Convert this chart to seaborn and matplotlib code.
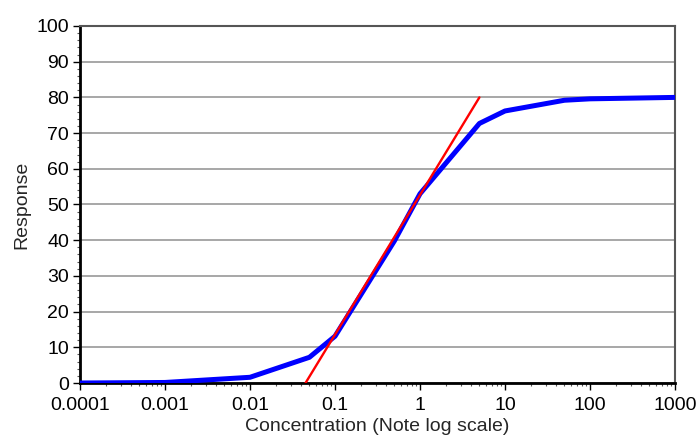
import matplotlib
matplotlib.use("Agg")
import matplotlib.pyplot as plt
import matplotlib.ticker as mticker
import seaborn as sns
import pandas as pd

conc = [0.0001, 0.001, 0.01, 0.05, 0.1, 0.5, 1, 5, 10, 50, 100, 1000]
response = [0.0, 0.15, 1.6, 7.2, 13.1, 39.8, 53.0, 72.7, 76.2, 79.2, 79.6, 80.0]

tangent_x = [0.045, 5.0]
tangent_y = [0.0, 80.0]

x_ticks = [0.0001, 0.001, 0.01, 0.1, 1, 10, 100, 1000]
x_tick_labels = ["0.0001", "0.001", "0.01", "0.1", "1", "10", "100", "1000"]
y_ticks = [0, 10, 20, 30, 40, 50, 60, 70, 80, 90, 100]

sns.set_style("white")
plt.rcParams['font.family'] = ['Liberation Sans', 'DejaVu Sans']

fig = plt.figure(figsize=(6.98, 4.37), dpi=100)
ax = fig.add_axes([80/698, 1-383/437, (675-80)/698, (383-26)/437])

df = pd.DataFrame({"conc": conc, "response": response})
df_t = pd.DataFrame({"x": tangent_x, "y": tangent_y})

sns.lineplot(data=df, x="conc", y="response", ax=ax, color="#0000ff", linewidth=3.6, zorder=3)
sns.lineplot(data=df_t, x="x", y="y", ax=ax, color="#ff0000", linewidth=1.7, zorder=4)

ax.set_xscale("log")
ax.set_xlim(0.0001, 1000)
ax.set_ylim(0, 100)
ax.set_xticks(x_ticks)
ax.set_xticklabels(x_tick_labels)
ax.set_yticks(y_ticks)
ax.xaxis.set_minor_locator(mticker.LogLocator(base=10, subs=range(2, 10), numticks=20))
ax.xaxis.set_minor_formatter(mticker.NullFormatter())
ax.yaxis.set_minor_locator(mticker.MultipleLocator(2))

ax.grid(axis="y", which="major", color="#a0a0a0", linewidth=1.3)
ax.grid(axis="x", visible=False)
ax.set_axisbelow(True)

ax.tick_params(axis="both", which="major", direction="out", length=5, width=1, labelsize=14, colors="black", pad=3)
ax.tick_params(axis="x", which="major", pad=5)
ax.tick_params(axis="both", which="minor", direction="out", length=2.5, width=0.8, colors="#555555")
ax.tick_params(axis="x", which="both", bottom=True, top=False)
ax.tick_params(axis="y", which="both", left=True, right=False)

for side in ["left", "bottom"]:
    ax.spines[side].set_color("black")
    ax.spines[side].set_linewidth(2)
for side in ["top", "right"]:
    ax.spines[side].set_color("#555555")
    ax.spines[side].set_linewidth(1.5)

ax.set_xlabel("Concentration (Note log scale)", fontsize=14, labelpad=3)
ax.set_ylabel("Response", fontsize=14, labelpad=4)

fig.savefig("out.png", dpi=100)
